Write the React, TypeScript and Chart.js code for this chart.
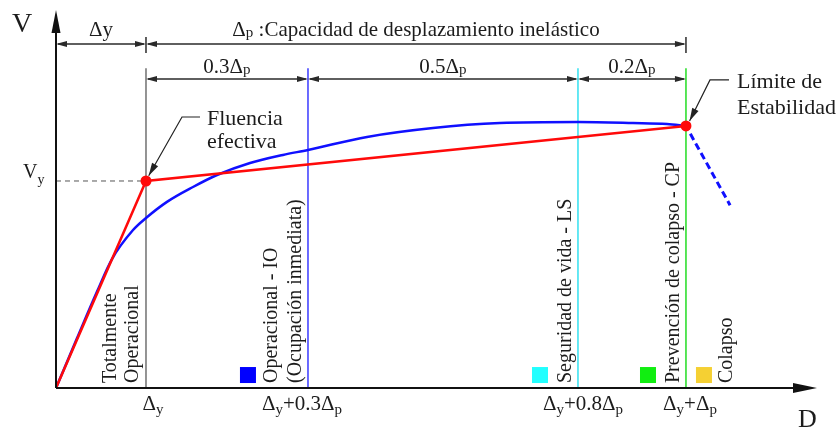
import { useEffect, useRef } from "react";
import { Chart, registerables } from "chart.js";

Chart.register(...registerables);

// ---- data (D in units of Δy, V in units of Vy) ----
const X_MAX = 8.456;
const Y_MAX = 1.826;

const bilinearD = [0, 1, 7];
const bilinearV = [0, 1, 1.266];

const curveD = [0, 0.233, 0.456, 0.622, 0.856, 1.0, 1.233, 1.522, 1.789, 2.156, 2.522, 2.8, 3.456, 4.189, 4.933, 5.8, 6.411, 6.789, 7.0];
const curveV = [0, 0.24, 0.466, 0.623, 0.763, 0.821, 0.899, 0.971, 1.029, 1.087, 1.126, 1.15, 1.213, 1.256, 1.28, 1.285, 1.28, 1.275, 1.266];

const collapseD = [7, 7.49];
const collapseV = [1.266, 0.883];

const levelD = [1, 2.8, 5.8, 7];
const levelColors = ["#707070", "#3a3aff", "#33e0f0", "#22dd22"];
const levelTopV = 1.545;
const tickLabels = ["Δ_y", "Δ_y+0.3Δ_p", "Δ_y+0.8Δ_p", "Δ_y+Δ_p"];
const tickLabelShift = [7, -6, 5, 4];

const row1V = 1.662;
const row1Segments = [[0, 1], [1, 7]];
const row1Labels = ["Δy", "Δ_p :Capacidad de desplazamiento inelástico"];
const row1Ticks = [1, 7];

const row2V = 1.493;
const row2Segments = [[1, 2.8], [2.8, 5.8], [5.8, 7]];
const row2Labels = ["0.3Δ_p", "0.5Δ_p", "0.2Δ_p"];

const stateNames = [["Totalmente", "Operacional"], ["Operacional - IO", "(Ocupación inmediata)"], ["Seguridad de vida - LS"], ["Prevención de colapso - CP"], ["Colapso"]];
const stateTextD = [[0.6, 0.844], [2.389, 2.656], [5.656], [6.856], [7.444]];
const stateSquareD = [null, 2.133, 5.378, 6.578, 7.2];
const stateSquareColors = [null, "#0000ff", "#22ffff", "#11ee11", "#f5d033"];
const stateBottomV = 0.024;

const yieldCalloutText = ["Fluencia", "efectiva"];
const yieldCalloutAt = [1.678, 1.271, 1.159];
const yieldCalloutPath = [[1.6, 1.309], [1.4, 1.309], [1.03, 1.025]];

const limitCalloutText = ["Límite de", "Estabilidad"];
const limitCalloutAt = [7.567, 1.449, 1.324];
const limitCalloutPath = [[7.478, 1.488], [7.267, 1.488], [7.04, 1.29]];

const FONT = '"Liberation Serif", "DejaVu Serif", serif';
const INK = "#1c1c1c";

type Part = { t: string; sub: boolean };

function parseRich(text: string): Part[] {
  const parts: Part[] = [];
  for (let i = 0; i < text.length; i++) {
    if (text[i] === "_" && i + 1 < text.length) {
      parts.push({ t: text[i + 1], sub: true });
      i++;
    } else {
      const last = parts[parts.length - 1];
      if (last && !last.sub) last.t += text[i];
      else parts.push({ t: text[i], sub: false });
    }
  }
  return parts;
}

function drawRich(ctx: CanvasRenderingContext2D, text: string, x: number, y: number, size: number, align: "left" | "center", subDrop: number) {
  const parts = parseRich(text);
  const subSize = Math.round(size * 0.72);
  let total = 0;
  const widths: number[] = [];
  for (const p of parts) {
    ctx.font = `${p.sub ? subSize : size}px ${FONT}`;
    const w = ctx.measureText(p.t).width;
    widths.push(w);
    total += w;
  }
  let cx = align === "center" ? x - total / 2 : x;
  ctx.textAlign = "left";
  ctx.textBaseline = "alphabetic";
  parts.forEach((p, i) => {
    ctx.font = `${p.sub ? subSize : size}px ${FONT}`;
    ctx.fillText(p.t, cx, y + (p.sub ? subDrop : 0));
    cx += widths[i];
  });
}

function arrowHead(ctx: CanvasRenderingContext2D, fx: number, fy: number, tx: number, ty: number, len: number, hw: number) {
  const a = Math.atan2(ty - fy, tx - fx);
  const bx = tx - len * Math.cos(a);
  const by = ty - len * Math.sin(a);
  ctx.beginPath();
  ctx.moveTo(tx, ty);
  ctx.lineTo(bx + hw * Math.sin(a), by - hw * Math.cos(a));
  ctx.lineTo(bx - hw * Math.sin(a), by + hw * Math.cos(a));
  ctx.closePath();
  ctx.fill();
}

const diagramPlugin = {
  id: "diagram",
  afterDraw(chart: any) {
    const ctx: CanvasRenderingContext2D = chart.ctx;
    const xs = chart.scales.x;
    const ys = chart.scales.y;
    const px = (d: number) => xs.getPixelForValue(d);
    const py = (v: number) => ys.getPixelForValue(v);
    const area = chart.chartArea;
    ctx.save();

    // axes
    ctx.strokeStyle = "#111";
    ctx.fillStyle = "#111";
    ctx.lineWidth = 2;
    const ox = px(0);
    const oy = py(0);
    ctx.beginPath();
    ctx.moveTo(ox, oy);
    ctx.lineTo(ox, area.top + 14);
    ctx.moveTo(ox, oy);
    ctx.lineTo(area.right - 14, oy);
    ctx.stroke();
    arrowHead(ctx, ox, oy, ox, area.top, 23, 4.5);
    arrowHead(ctx, ox, oy, area.right, oy, 24, 5);

    // dimension rows
    ctx.strokeStyle = "#2a2a2a";
    ctx.fillStyle = "#2a2a2a";
    ctx.lineWidth = 1.5;
    const row = (v: number, segs: number[][]) => {
      const y = py(v);
      segs.forEach(([a, b]) => {
        const xa = px(a);
        const xb = px(b);
        ctx.beginPath();
        ctx.moveTo(xa + 2, y);
        ctx.lineTo(xb - 2, y);
        ctx.stroke();
        arrowHead(ctx, xb, y, xa, y, 11, 3);
        arrowHead(ctx, xa, y, xb, y, 11, 3);
      });
    };
    row(row1V, row1Segments);
    row(row2V, row2Segments);
    ctx.lineWidth = 1.5;
    row1Ticks.forEach((d) => {
      const x = px(d);
      const y = py(row1V);
      ctx.beginPath();
      ctx.moveTo(x, y - 7);
      ctx.lineTo(x, y + 9);
      ctx.stroke();
    });

    ctx.fillStyle = INK;
    row1Segments.forEach(([a, b], i) => {
      drawRich(ctx, row1Labels[i], px((a + b) / 2), py(row1V) - 8, 21, "center", 1);
    });
    row2Segments.forEach(([a, b], i) => {
      drawRich(ctx, row2Labels[i], px((a + b) / 2), py(row2V) - 6, 21, "center", 1);
    });

    // tick labels
    levelD.forEach((d, i) => {
      drawRich(ctx, tickLabels[i], px(d) + tickLabelShift[i], oy + 22, 21, "center", 4);
    });

    // axis titles
    drawRich(ctx, "V", ox - 44, area.top + 22, 28, "left", 0);
    drawRich(ctx, "D", area.right - 19, oy + 39, 26, "left", 0);
    drawRich(ctx, "V_y", ox - 33, py(1) - 3, 20, "left", 6);

    // state labels (rotated)
    ctx.font = `20px ${FONT}`;
    stateNames.forEach((names, i) => {
      names.forEach((n, j) => {
        ctx.save();
        ctx.translate(px(stateTextD[i][j]), py(stateBottomV));
        ctx.rotate(-Math.PI / 2);
        ctx.textAlign = "left";
        ctx.textBaseline = "middle";
        ctx.fillStyle = INK;
        ctx.fillText(n, 0, 1);
        ctx.restore();
      });
      const sq = stateSquareD[i];
      if (sq !== null) {
        ctx.fillStyle = stateSquareColors[i] as string;
        ctx.fillRect(px(sq) - 8, py(stateBottomV) - 1 - 15, 16, 16);
      }
    });

    // callouts
    const callout = (texts: string[], at: number[], path: number[][]) => {
      ctx.strokeStyle = "#222";
      ctx.fillStyle = "#222";
      ctx.lineWidth = 1.2;
      ctx.beginPath();
      path.forEach(([d, v], k) => {
        if (k === 0) ctx.moveTo(px(d), py(v));
        else ctx.lineTo(px(d), py(v));
      });
      ctx.stroke();
      const n = path.length;
      arrowHead(ctx, px(path[n - 2][0]), py(path[n - 2][1]), px(path[n - 1][0]), py(path[n - 1][1]), 13, 3.5);
      ctx.fillStyle = INK;
      drawRich(ctx, texts[0], px(at[0]), py(at[1]), 22, "left", 0);
      drawRich(ctx, texts[1], px(at[0]), py(at[2]), 22, "left", 0);
    };
    callout(yieldCalloutText, yieldCalloutAt, yieldCalloutPath);
    callout(limitCalloutText, limitCalloutAt, limitCalloutPath);

    ctx.restore();
  },
};

export default function App() {
  const ref = useRef<HTMLCanvasElement>(null);
  useEffect(() => {
    const toPts = (xsA: number[], ysA: number[]) => xsA.map((x, i) => ({ x, y: ysA[i] }));
    const verticals = levelD.map((d, i) => ({
      data: [{ x: d, y: 0 }, { x: d, y: levelTopV }],
      borderColor: levelColors[i],
      borderWidth: 1.5,
      pointRadius: 0,
      order: 5,
    }));
    const chart = new Chart(ref.current as HTMLCanvasElement, {
      type: "line",
      data: {
        datasets: [
          {
            data: toPts(bilinearD, bilinearV),
            borderColor: "#ff0a0a",
            backgroundColor: "#ff0a0a",
            borderWidth: 2.5,
            pointRadius: [0, 5.5, 5.5],
            pointBorderWidth: 0,
            pointBackgroundColor: "#ff0a0a",
            order: 0,
          },
          {
            data: toPts(curveD, curveV),
            borderColor: "#1010ff",
            borderWidth: 2.5,
            pointRadius: 0,
            cubicInterpolationMode: "monotone",
            order: 1,
          },
          {
            data: toPts(collapseD, collapseV),
            borderColor: "#1010ff",
            borderWidth: 3,
            borderDash: [7, 4],
            borderDashOffset: 2,
            pointRadius: 0,
            order: 2,
          },
          {
            data: [{ x: 0, y: 1 }, { x: 1, y: 1 }],
            borderColor: "#555",
            borderWidth: 1,
            borderDash: [5, 4],
            pointRadius: 0,
            order: 3,
          },
          ...verticals,
        ] as any,
      },
      options: {
        animation: false,
        responsive: true,
        maintainAspectRatio: false,
        layout: { padding: { left: 56, right: 23, top: 10, bottom: 41 } },
        plugins: { legend: { display: false }, tooltip: { enabled: false } },
        scales: {
          x: { type: "linear", min: 0, max: X_MAX, display: false },
          y: { type: "linear", min: 0, max: Y_MAX, display: false },
        },
        elements: { line: { tension: 0 } },
      },
      plugins: [diagramPlugin],
    });
    return () => chart.destroy();
  }, []);
  return (
    <div style={{ position: "fixed", left: 0, top: 0, width: 840, height: 429, background: "#fff" }}>
      <canvas ref={ref} />
    </div>
  );
}
